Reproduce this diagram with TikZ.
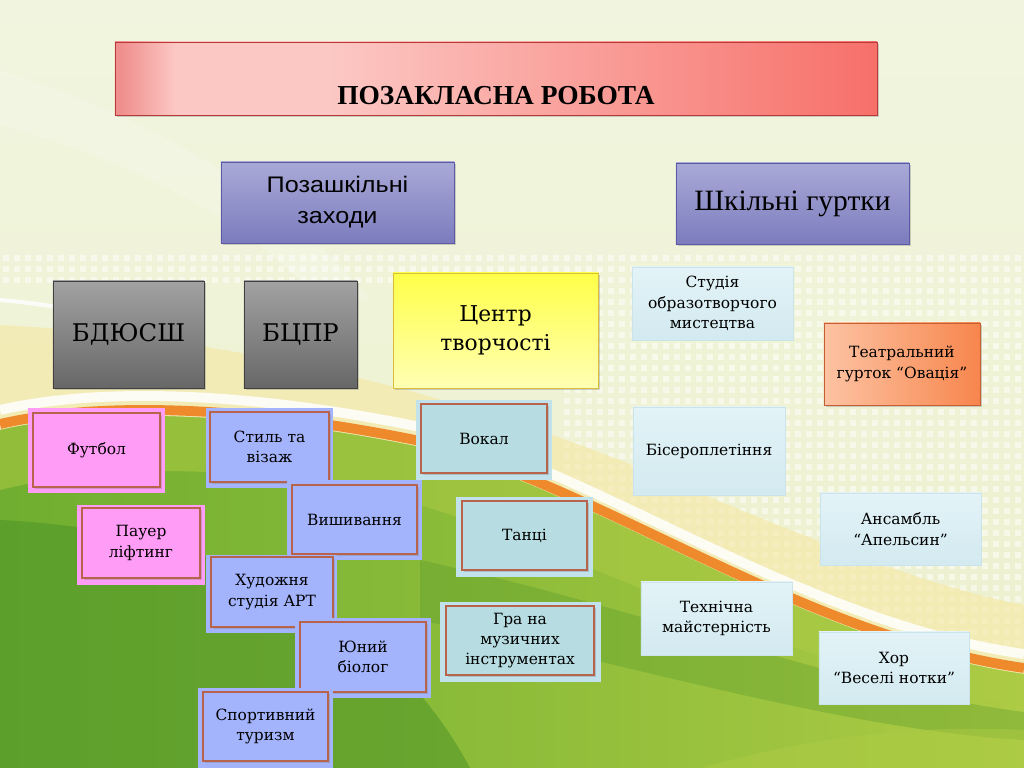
\documentclass[tikz,border=0pt]{standalone}
\usepackage{fontspec}
\setmainfont{DejaVu Serif}
\newfontfamily\widesans[FakeStretch=1.12]{Liberation Sans}
\newfontfamily\timesfont{Liberation Serif}
\usetikzlibrary{shadows}

\definecolor{bgtop}{HTML}{F1F5DF}
\definecolor{bgbot}{HTML}{EDF0CC}
\definecolor{glowyellow}{HTML}{F6E7A2}
\definecolor{stripeorange}{HTML}{EE8A2C}
\definecolor{grassdark}{HTML}{4E9428}
\definecolor{grass}{HTML}{6FAE30}
\definecolor{grasslight}{HTML}{ADCB44}
\definecolor{titlered}{HTML}{F0908E}
\definecolor{titlepink}{HTML}{FCC8C4}
\definecolor{titlesalmon}{HTML}{F7706A}
\definecolor{titleborder}{HTML}{B8393A}
\definecolor{purpletop}{HTML}{A9A9D7}
\definecolor{purplebot}{HTML}{7C7CBE}
\definecolor{purpleborder}{HTML}{5A5AA6}
\definecolor{graytop}{HTML}{A2A2A2}
\definecolor{graybot}{HTML}{676767}
\definecolor{yellowtop}{HTML}{FFFF48}
\definecolor{yellowbot}{HTML}{FFFFB4}
\definecolor{yellowborder}{HTML}{D9BE3E}
\definecolor{peach}{HTML}{FDC3A3}
\definecolor{orangedeep}{HTML}{F7864D}
\definecolor{orangeborder}{HTML}{C65F32}
\definecolor{paletop}{HTML}{E3F3F7}
\definecolor{palebot}{HTML}{D2EAF0}
\definecolor{paleborder}{HTML}{CBE4EC}
\definecolor{pinkfill}{HTML}{FF9CF6}
\definecolor{bluefill}{HTML}{A3B3FC}
\definecolor{tealfill}{HTML}{B7DDE2}
\definecolor{tealglow}{HTML}{C1E2EA}
\definecolor{frameborder}{HTML}{B8644C}

\pgfdeclarehorizontalshading{titleshade}{100bp}{color(0bp)=(titlered); color(25bp)=(titlered); color(25.5bp)=(titlered); color(29bp)=(titlepink); color(39bp)=(titlepink); color(75bp)=(titlesalmon); color(100bp)=(titlesalmon)}

\begin{document}
\begin{tikzpicture}[x=0.025cm,y=-0.025cm,
  boxshadow/.style={drop shadow={shadow xshift=1.2pt, shadow yshift=-1.2pt, opacity=0.35}},
  titlebox/.style={shape=rectangle, draw=titleborder, shade, shading=titleshade, boxshadow,
    minimum width=19.05cm, minimum height=1.825cm, text height=37pt, text depth=0pt,
    font=\timesfont\bfseries\fontsize{19.5}{23}\selectfont},
  purplebox/.style={shape=rectangle, draw=purpleborder, top color=purpletop, bottom color=purplebot,
    boxshadow, minimum width=5.825cm, minimum height=2.025cm, align=center},
  graybox/.style={shape=rectangle, draw=black!75, top color=graytop, bottom color=graybot,
    boxshadow, minimum height=2.675cm, font=\fontsize{17.3}{21}\selectfont},
  yellowbox/.style={shape=rectangle, draw=yellowborder, top color=yellowtop, bottom color=yellowbot,
    boxshadow, minimum width=5.125cm, minimum height=2.875cm, align=center, font=\fontsize{15.5}{21}\selectfont},
  orangebox/.style={shape=rectangle, draw=orangeborder, left color=peach, right color=orangedeep,
    boxshadow, align=center, font=\fontsize{11}{14.4}\selectfont},
  palebox/.style={shape=rectangle, draw=paleborder, top color=paletop, bottom color=palebot,
    align=center, font=\fontsize{11}{14.4}\selectfont},
  glow/.style={shape=rectangle, draw=none, fill=#1},
  framebox/.style={shape=rectangle, draw=frameborder, line width=0.9pt, fill=#1, boxshadow,
    align=center, font=\fontsize{11}{14.4}\selectfont}]
\useasboundingbox (0,0) rectangle (1024,768);
%%%%%%%%%%%%%%%%%%%%%%%%%%%%%%%%%%%%%%%%%%% background
\shade[top color=bgtop, bottom color=bgbot] (0,0) rectangle (1024,768);
\fill[white, opacity=0.18] (0,70) .. controls (160,120) and (290,200) .. (370,300) -- (320,300) .. controls (240,215) and (130,160) .. (0,125) -- cycle;
\foreach \x in {3,14,...,1020}{
  \foreach \y in {255,266,277}{
    \fill[white, opacity=0.5] (\x,\y) rectangle +(6,6);
  }
}
\foreach \x in {564,575,...,1020}{
  \foreach \y in {288,299,...,640}{
    \fill[white, opacity=0.5] (\x,\y) rectangle +(6,6);
  }
}
%%%%% swooshes
\fill[glowyellow, opacity=0.6] (0,325) .. controls (200,335) and (420,380) .. (640,468) .. controls (800,535) and (920,585) .. (1024,605) -- (1024,700) -- (0,470) -- cycle;
\draw[white, line width=3pt, opacity=0.8] (0,300) .. controls (60,305) and (120,318) .. (170,335);
\draw[white, line width=7pt, opacity=0.85] (0,410) .. controls (100,387) and (250,392) .. (420,427) .. controls (600,472) and (800,622) .. (1024,654);
\begin{scope}
\clip (0,430) .. controls (100,407) and (250,412) .. (420,447) .. controls (600,492) and (800,642) .. (1024,674) -- (1024,768) -- (0,768) -- cycle;
\shade[left color=grass, right color=grasslight] (0,380) rectangle (1024,768);
\fill[grasslight, opacity=0.55] (0,430) .. controls (100,407) and (250,412) .. (420,447) .. controls (600,492) and (800,642) .. (1024,674) -- (1024,705) .. controls (800,675) and (600,560) .. (420,505) .. controls (250,460) and (100,465) .. (0,490) -- cycle;
\fill[grassdark, opacity=0.55] (0,520) .. controls (200,530) and (380,600) .. (470,768) -- (0,768) -- cycle;
\fill[grassdark, opacity=0.3] (420,560) .. controls (650,610) and (850,690) .. (1024,712) -- (1024,740) .. controls (850,730) and (650,670) .. (420,620) -- cycle;
\fill[grasslight, opacity=0.5] (700,768) .. controls (820,735) and (920,725) .. (1024,730) -- (1024,768) -- cycle;
\end{scope}
\draw[stripeorange, line width=7pt] (0,424) .. controls (100,401) and (250,406) .. (420,441) .. controls (600,486) and (800,636) .. (1024,668);

%%%%%%%%%%%%%%%%%%%%%%%%%%%%%%%%%%%%%%%%%%% headings
\node[titlebox](title) at (496,78.5){ПОЗАКЛАСНА РОБОТА};
\node[purplebox, font=\widesans\fontsize{16}{22}\selectfont](outofschool) at (337.5,202.5){Позашкільні\\заходи};
\node[purplebox, font=\timesfont\fontsize{21}{25}\selectfont](schoolclubs) at (792.5,203.5){Шкільні гуртки};

%%%%% out of school
\node[graybox, minimum width=3.775cm](bdyussh) at (128.5,334.5){БДЮСШ};
\node[graybox, minimum width=2.825cm](bcpr) at (300.5,334.5){БЦПР};
\node[yellowbox](centre) at (495.5,330.5){Центр\\творчості};

\node[glow=pinkfill, minimum width=3.425cm, minimum height=2.125cm](footballglow) at (96.5,450.5){};
\node[framebox=pinkfill, minimum width=3.175cm, minimum height=1.85cm](football) at (96.5,450){Футбол};
\node[glow=pinkfill, minimum width=3.2cm, minimum height=2cm](powerglow) at (141,545){};
\node[framebox=pinkfill, minimum width=2.95cm, minimum height=1.75cm](power) at (141,543){Пауер\\ліфтинг};

\node[glow=bluefill, minimum width=3.175cm, minimum height=2cm](styleglow) at (269.5,448){};
\node[framebox=bluefill, minimum width=2.975cm, minimum height=1.75cm](style) at (269.5,447){Стиль та\\візаж};
\node[glow=bluefill, minimum width=3.375cm, minimum height=2cm](embroideryglow) at (354.5,520){};
\node[framebox=bluefill, minimum width=3.125cm, minimum height=1.725cm](embroidery) at (354.5,519.5){Вишивання};
\node[glow=bluefill, minimum width=3.275cm, minimum height=1.95cm](artglow) at (271.5,594){};
\node[framebox=bluefill, minimum width=3.05cm, minimum height=1.75cm](art) at (272,592){Художня\\студія АРТ};
\node[glow=bluefill, minimum width=3.4cm, minimum height=2cm](biologistglow) at (363,658){};
\node[framebox=bluefill, minimum width=3.15cm, minimum height=1.75cm](biologist) at (363,657){Юний\\біолог};
\node[glow=bluefill, minimum width=3.375cm, minimum height=2cm](tourismglow) at (265.5,728){};
\node[framebox=bluefill, minimum width=3.125cm, minimum height=1.725cm](tourism) at (265.5,726.5){Спортивний\\туризм};

\node[glow=tealglow, minimum width=3.4cm, minimum height=2cm](vocalglow) at (484,440){};
\node[framebox=tealfill, minimum width=3.15cm, minimum height=1.725cm](vocal) at (484,438.5){Вокал};
\node[glow=tealglow, minimum width=3.425cm, minimum height=2cm](danceglow) at (524.5,537){};
\node[framebox=tealfill, minimum width=3.125cm, minimum height=1.725cm](dance) at (524.5,535.5){Танці};
\node[glow=tealglow, minimum width=4.025cm, minimum height=2cm](musicglow) at (520.5,642){};
\node[framebox=tealfill, minimum width=3.7cm, minimum height=1.725cm](music) at (520,640.5){Гра на\\музичних\\інструментах};

%%%%% school clubs
\node[palebox, minimum width=4.025cm, minimum height=1.825cm](studio) at (712.5,303.5){Студія\\образотворчого\\мистецтва};
\node[orangebox, minimum width=3.9cm, minimum height=2.05cm](theatre) at (902,364){Театральний\\гурток “Овація”};
\node[palebox, minimum width=3.8cm, minimum height=2.2cm](beads) at (709,451){Бісероплетіння};
\node[palebox, minimum width=4.025cm, minimum height=1.8cm](ensemble) at (900.5,529){Ансамбль\\“Апельсин”};
\node[palebox, minimum width=3.775cm, minimum height=1.825cm](technical) at (716.5,618.5){Технічна\\майстерність};
\node[palebox, minimum width=3.75cm, minimum height=1.8cm](choir) at (894,668){Хор\\“Веселі нотки”};
\end{tikzpicture}
\end{document}
